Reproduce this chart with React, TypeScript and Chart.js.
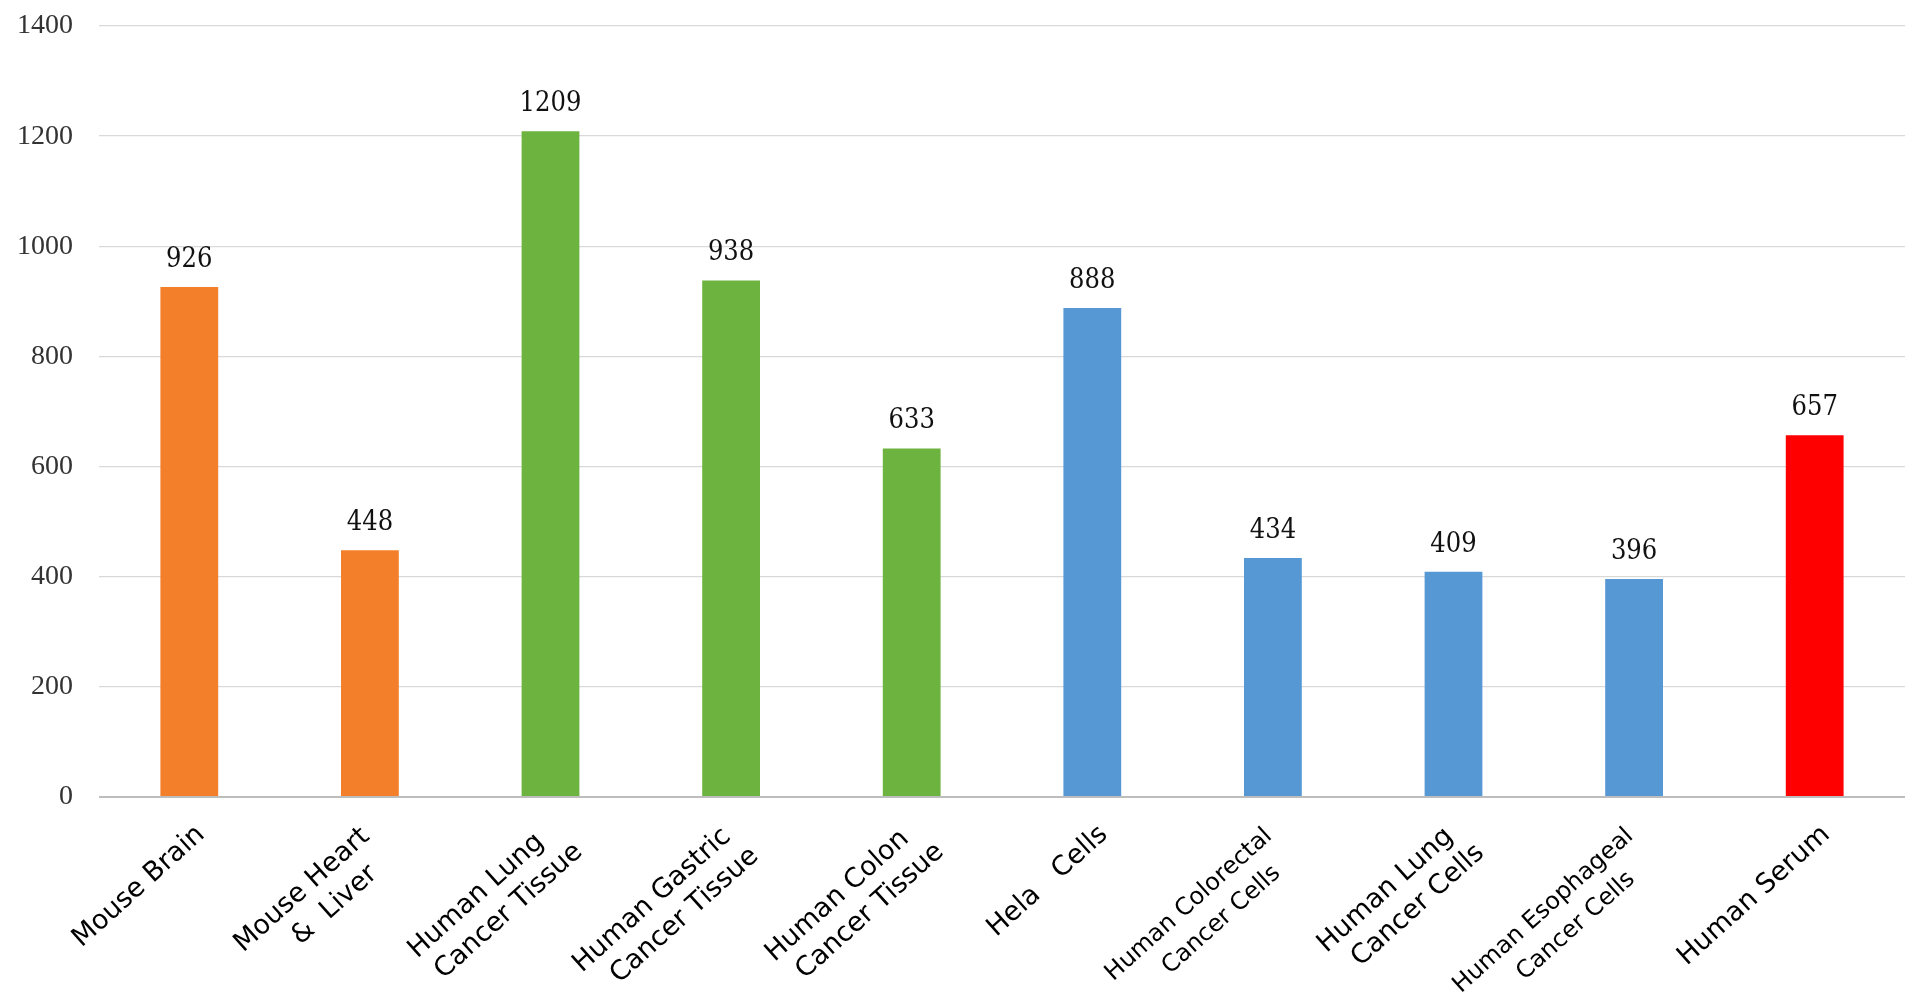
import { useEffect, useRef } from 'react';
import { Chart, ChartConfiguration, registerables } from 'chart.js';

Chart.register(...registerables);

const categories: (string | string[])[] = [
  'Mouse Brain',
  ['Mouse Heart', '&  Liver'],
  ['Human Lung', 'Cancer Tissue'],
  ['Human Gastric', 'Cancer Tissue'],
  ['Human Colon', 'Cancer Tissue'],
  'Hela   Cells',
  ['Human Colorectal', 'Cancer Cells'],
  ['Human Lung', 'Cancer Cells'],
  ['Human Esophageal', 'Cancer Cells'],
  'Human Serum',
];

const values = [926, 448, 1209, 938, 633, 888, 434, 409, 396, 657];

const barColors = [
  '#F47F2A', '#F47F2A',
  '#6DB33F', '#6DB33F', '#6DB33F',
  '#5598D3', '#5598D3', '#5598D3', '#5598D3',
  '#FF0000',
];

const yTicks = [0, 200, 400, 600, 800, 1000, 1200, 1400];

// font size per category label (the long two-line ones are set smaller)
const labelSizes = [27, 27, 27, 27, 27, 27, 24, 27, 24, 27];

const valueLabels = {
  id: 'valueLabels',
  afterDatasetsDraw(chart: Chart) {
    const ctx = chart.ctx;
    const meta = chart.getDatasetMeta(0);
    ctx.save();
    ctx.font = '27px "DejaVu Serif Condensed", "DejaVu Serif", serif';
    ctx.fillStyle = '#111';
    ctx.textAlign = 'center';
    ctx.textBaseline = 'alphabetic';
    meta.data.forEach((bar, i) => {
      ctx.fillText(String(values[i]), bar.x, bar.y - 20);
    });
    ctx.restore();
  },
};

// rotated category labels, drawn in the rotated frame of each tick
const categoryLabels = {
  id: 'categoryLabels',
  afterDraw(chart: Chart) {
    const ctx = chart.ctx;
    const xs = chart.scales.x;
    const angle = (-42 * Math.PI) / 180;
    categories.forEach((lab, i) => {
      const lines = Array.isArray(lab) ? lab : [lab];
      const size = labelSizes[i];
      const multi = lines.length > 1;
      ctx.save();
      ctx.font = `${size}px "DejaVu Sans", sans-serif`;
      ctx.fillStyle = '#000';
      const w = Math.max(...lines.map(l => ctx.measureText(l).width));
      const centre = (multi ? -27 : -14) - w / 2;
      const firstLine = multi ? 24 : 33;
      ctx.translate(xs.getPixelForValue(i), xs.top);
      ctx.rotate(angle);
      ctx.textAlign = 'center';
      ctx.textBaseline = 'middle';
      lines.forEach((l, k) => {
        ctx.fillText(l, centre + 14 * k, firstLine + 33 * k);
      });
      ctx.restore();
    });
  },
};

export default function App() {
  const chartRef = useRef<HTMLCanvasElement>(null);
  const chartInstance = useRef<Chart>();

  useEffect(() => {
    if (!chartRef.current) return;
    const ctx = chartRef.current.getContext('2d');
    if (!ctx) return;

    if (chartInstance.current) {
      chartInstance.current.destroy();
    }

    const config: ChartConfiguration = {
      type: 'bar',
      data: {
        labels: categories,
        datasets: [{
          data: values,
          backgroundColor: barColors,
          barPercentage: 0.32,
          categoryPercentage: 1,
        }],
      },
      options: {
        animation: false,
        responsive: true,
        maintainAspectRatio: false,
        layout: { padding: { top: 26, right: 15, bottom: 0, left: 0 } },
        plugins: {
          legend: { display: false },
          tooltip: { enabled: false },
        },
        scales: {
          x: {
            grid: { display: false },
            border: { display: false },
            ticks: { display: false },
            afterFit: (s: any) => { s.height = 208; },
          },
          y: {
            min: 0,
            max: 1400,
            afterFit: (s: any) => {
              s.width = 99;
              s.paddingTop = 0;
              s.paddingBottom = 0;
            },
            afterBuildTicks: (s: any) => { s.ticks = yTicks.map(v => ({ value: v })); },
            border: { display: false },
            grid: {
              drawTicks: false,
              color: (c: any) => (c.tick && c.tick.value === 0 ? '#bdbdbd' : '#d9d9d9'),
              lineWidth: (c: any) => (c.tick && c.tick.value === 0 ? 2 : 1.3),
            },
            ticks: {
              padding: 26,
              color: '#333',
              font: { family: '"Liberation Serif", serif', size: 28 },
              callback: (v: any) => String(v),
            },
          },
        },
      },
      plugins: [valueLabels, categoryLabels],
    };

    chartInstance.current = new Chart(ctx, config);

    return () => {
      chartInstance.current?.destroy();
    };
  }, []);

  return (
    <div style={{ position: 'fixed', left: 0, top: 0, width: 1920, height: 1005, background: '#fff' }}>
      <canvas ref={chartRef} />
    </div>
  );
}
